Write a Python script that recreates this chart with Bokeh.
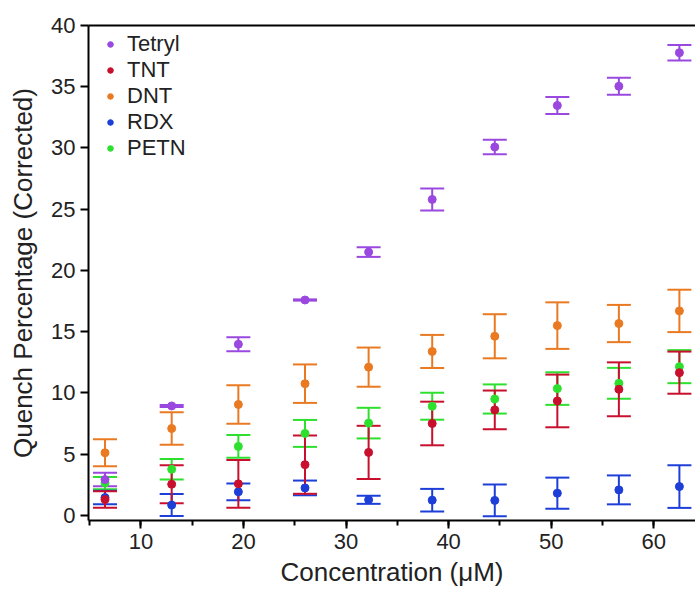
from bokeh.plotting import figure
from bokeh.models import (ColumnDataSource, Whisker, TeeHead, Legend, LegendItem,
                          SingleIntervalTicker, FixedTicker, LinearAxis, Range1d)
from bokeh.embed import file_html
from bokeh.resources import INLINE

# Concentration (uM) for each measurement
conc = [6.5, 13.0, 19.5, 26.0, 32.2, 38.4, 44.5, 50.6, 56.6, 62.5]

# Quench percentage (corrected) and its error, per explosive
tetryl = [2.93, 8.94, 13.98, 17.59, 21.5, 25.8, 30.08, 33.47, 35.04, 37.78]
tetryl_err = [0.55, 0.08, 0.58, 0.05, 0.39, 0.9, 0.6, 0.7, 0.69, 0.63]

tnt = [1.3, 2.55, 2.58, 4.15, 5.15, 7.51, 8.62, 9.35, 10.3, 11.66]
tnt_err = [0.67, 1.56, 1.95, 2.38, 2.17, 1.78, 1.58, 2.15, 2.2, 1.72]

dnt = [5.12, 7.1, 9.06, 10.76, 12.11, 13.39, 14.63, 15.5, 15.67, 16.7]
dnt_err = [1.1, 1.33, 1.57, 1.57, 1.6, 1.35, 1.8, 1.9, 1.52, 1.73]

rdx = [1.46, 0.85, 1.93, 2.25, 1.28, 1.25, 1.23, 1.82, 2.09, 2.36]
rdx_err = [0.55, 0.9, 0.69, 0.6, 0.33, 0.92, 1.3, 1.27, 1.18, 1.74]

petn = [2.65, 3.77, 5.64, 6.7, 7.54, 8.92, 9.51, 10.36, 10.79, 12.15]
petn_err = [0.5, 0.84, 0.92, 1.1, 1.25, 1.1, 1.19, 1.33, 1.26, 1.35]

series = [
    ("Tetryl", tetryl, tetryl_err, "#9A48E0"),
    ("TNT", tnt, tnt_err, "#C8102E"),
    ("DNT", dnt, dnt_err, "#EA7A22"),
    ("RDX", rdx, rdx_err, "#1D3FD8"),
    ("PETN", petn, petn_err, "#2EE02E"),
]
draw_order = ["PETN", "RDX", "DNT", "TNT", "Tetryl"]

FONT = "Liberation Sans"

p = figure(width=695, height=589, output_backend="svg", toolbar_location=None,
           x_range=Range1d(4.89, 64.07), y_range=Range1d(-0.41, 40),
           min_border_left=88, min_border_right=0, min_border_top=25,
           min_border_bottom=66)
p.outline_line_color = None
p.xgrid.visible = False
p.ygrid.visible = False
p.background_fill_color = "white"
p.border_fill_color = "white"

renderers = {}
lookup = {name: (vals, errs, col) for name, vals, errs, col in series}
for name in draw_order:
    vals, errs, col = lookup[name]
    src = ColumnDataSource(dict(
        x=conc, y=vals,
        upper=[v + e for v, e in zip(vals, errs)],
        lower=[v - e for v, e in zip(vals, errs)],
    ))
    w = Whisker(base="x", upper="upper", lower="lower", source=src,
                line_color=col, line_width=2,
                upper_head=TeeHead(size=24, line_color=col, line_width=2),
                lower_head=TeeHead(size=24, line_color=col, line_width=2))
    p.add_layout(w)
    r = p.scatter("x", "y", source=src, size=8, color=col, line_color=col)
    renderers[name] = r

# axes
xax = p.xaxis[0]
xax.ticker = SingleIntervalTicker(interval=10, num_minor_ticks=2)
yax = p.yaxis[0]
yax.ticker = SingleIntervalTicker(interval=5, num_minor_ticks=0)
for ax in (xax, yax):
    ax.axis_line_width = 2
    ax.major_tick_line_width = 2
    ax.minor_tick_line_width = 2
    ax.major_tick_out = 8
    ax.major_tick_in = 0
    ax.minor_tick_out = 5
    ax.minor_tick_in = 0
    ax.major_label_text_font = FONT
    ax.major_label_text_font_size = "22px"
    ax.major_label_text_color = "#222222"
    ax.axis_label_text_font = FONT
    ax.axis_label_text_font_size = "26px"
    ax.axis_label_text_font_style = "normal"
    ax.axis_label_text_color = "#222222"
xax.axis_label = "Concentration (μM)"
yax.axis_label = "Quench Percentage (Corrected)"
xax.major_label_standoff = 5
yax.major_label_standoff = 5
xax.axis_label_standoff = 5
yax.axis_label_standoff = 10

# plain frame line along the top
top = LinearAxis(ticker=FixedTicker(ticks=[]), axis_line_width=2)
p.add_layout(top, "above")

legend = Legend(items=[LegendItem(label=name, renderers=[renderers[name]])
                       for name, _, _, _ in series],
                location=(15, 359), padding=0, margin=0,
                border_line_color=None, background_fill_alpha=0,
                label_text_font=FONT, label_text_font_size="22px",
                label_text_color="#222222",
                glyph_width=14, glyph_height=24, label_height=24,
                label_standoff=10, spacing=0)
p.add_layout(legend)

open("out.html", "w").write(file_html(p, INLINE))
